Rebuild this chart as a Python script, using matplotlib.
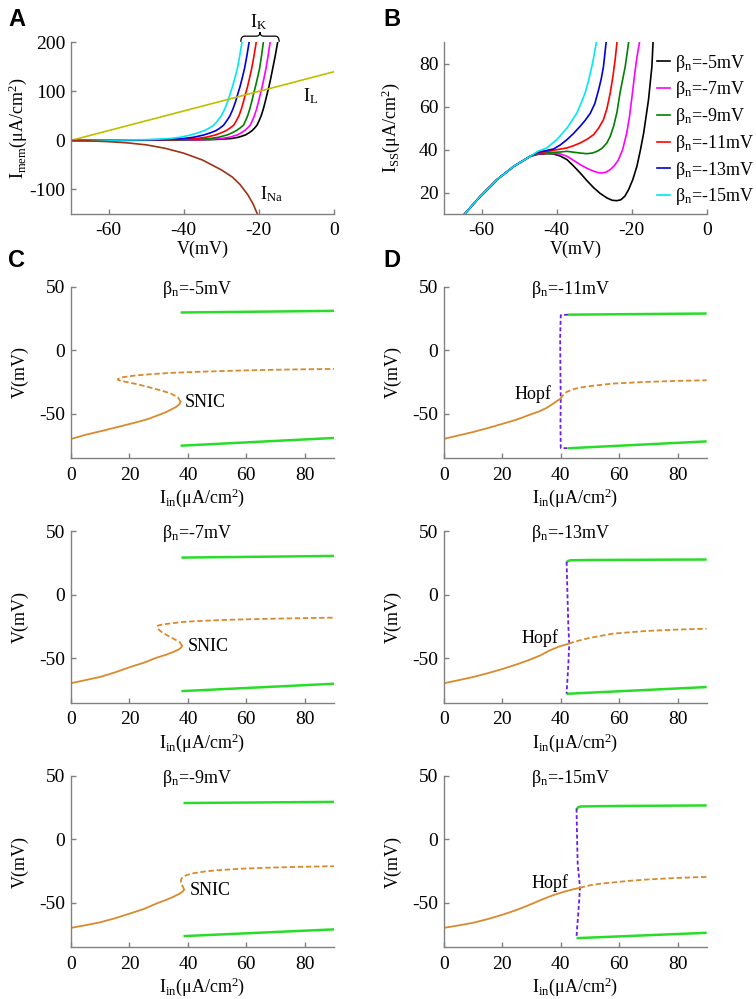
import matplotlib
matplotlib.use("Agg")
import matplotlib.pyplot as plt
from matplotlib.path import Path
from matplotlib.patches import PathPatch

plt.rcParams["font.family"] = "Liberation Serif"
plt.rcParams["mathtext.fontset"] = "custom"
plt.rcParams["mathtext.rm"] = "Liberation Serif"
plt.rcParams["mathtext.it"] = "Liberation Serif:italic"
plt.rcParams["mathtext.bf"] = "Liberation Serif:bold"
plt.rcParams["axes.unicode_minus"] = False

# ---------------- panel A: membrane currents ----------------
BETAS = [-5, -7, -9, -11, -13, -15]
IK_LEVELS = [0, 0.5, 1.5, 2.5, 4, 6.5, 11, 15, 20, 25, 31, 40, 50, 63, 79, 95, 110, 128, 147, 172, 200]
IK_V_5 = [-70, -45, -33, -30.1, -27.2, -25.4, -23.6, -22.7, -21.8, -21.15, -20.5, -19.95, -19.4,
          -18.85, -18.3, -17.8, -17.3, -16.8, -16.3, -15.65, -15.0]
IK_V_7 = [-70, -47, -35.5, -32.6, -29.8, -27.8, -25.8, -24.8, -23.8, -23.05, -22.3, -21.75, -21.2,
          -20.65, -20.1, -19.6, -19.1, -18.6, -18.1, -17.55, -17.0]
IK_V_9 = [-70, -51, -39.5, -36.2, -32.9, -30.7, -28.5, -27.25, -26.0, -25.05, -24.1, -23.55, -23.0,
          -22.45, -21.9, -21.4, -20.9, -20.35, -19.8, -19.3, -18.8]
IK_V_11 = [-70, -54, -43, -39.75, -36.5, -34.05, -31.6, -30.15, -28.7, -27.7, -26.7, -26.0, -25.3,
           -24.7, -24.1, -23.55, -23.0, -22.45, -21.9, -21.3, -20.7]
IK_V_13 = [-70, -57, -46.5, -43.25, -40.0, -37.35, -34.7, -33.05, -31.4, -30.4, -29.4, -28.55, -27.7,
           -26.95, -26.2, -25.6, -25.0, -24.4, -23.8, -23.2, -22.6]
IK_V_15 = [-70, -60, -50, -46.75, -43.5, -40.85, -38.2, -36.35, -34.5, -33.25, -32.0, -31.0, -30.0,
           -29.15, -28.3, -27.65, -27.0, -26.35, -25.7, -25.1, -24.5]
IL_V = [-70, 0]
IL_I = [0, 140]
INA_V = [-70, -65, -60, -55, -50, -45, -40, -35, -30, -27, -25, -23, -21.5, -20.4]
INA_I = [0, -1, -2.5, -5, -9, -16, -26, -40, -60, -75, -90, -110, -130, -150]

# ---------------- panel B: steady-state I-V ----------------
B_COMMON_V = [-64.5, -60.3, -55.9, -51.4, -47.0]
B_COMMON_I = [10, 18.3, 26, 32.2, 36.9]
B_V_5 = [-45, -42.6, -40.8, -39, -37.2, -35.5, -33.7, -31.9, -30.1, -28.4, -26.6, -25.2,
         -24.0, -22.9, -21.8, -20.8, -19.7, -18.6, -17.7, -16.8, -15.5, -14.6, -14.3]
B_I_5 = [37.8, 38.1, 38.0, 37.0, 35.3, 32.4, 29.1, 25.5, 22.2, 19.6, 17.5, 16.4,
         16.2, 16.6, 18.3, 21.4, 26, 32.2, 39.5, 47.7, 63.3, 78.8, 90]
B_V_7 = [-45, -42, -39, -37.2, -35.5, -33.7, -31.9, -30.1, -28.9, -27.9, -26.8, -25.7,
         -24.6, -23.5, -22.4, -21.3, -20.6, -20.0, -19.2, -18.6, -17.9]
B_I_7 = [38.0, 38.4, 38.0, 36.9, 35.0, 33.0, 31.3, 29.9, 29.3, 29.1, 29.5, 30.7,
         32.5, 35.3, 40, 47.8, 55, 63.3, 75, 83, 90]
B_V_9 = [-45, -42, -39, -37.2, -35.5, -33.7, -31.9, -30.5, -29.2, -27.9, -26.6, -25.7,
         -24.8, -23.9, -23.1, -21.7, -20.8]
B_I_9 = [38.1, 38.6, 38.9, 39.2, 38.8, 38.4, 38.1, 38.4, 39.2, 40.6, 43.1, 46.2,
         50.9, 57.5, 66.4, 78.8, 90]
B_V_11 = [-45, -42, -39.5, -37.2, -35.5, -33.7, -31.9, -30.1, -28.8, -27.5, -26.6, -25.7,
          -25.0, -24.4, -23.9]
B_I_11 = [38.4, 39.3, 40.1, 40.8, 41.8, 43.1, 44.8, 47, 50, 54, 59, 66.4, 74, 81.9, 90]
B_V_13 = [-45, -42.6, -40.8, -39, -37.2, -35.5, -33.7, -32.4, -31.0, -29.8, -28.8, -28.1,
          -27.5, -26.8]
B_I_13 = [38.8, 39.6, 40.3, 42.2, 44.7, 47.5, 50.9, 53.6, 57, 61.5, 67.9, 73, 78.8, 90]
B_V_15 = [-45, -42.6, -39.9, -37.2, -34.6, -33.5, -32.4, -31.5, -30.6, -30.0, -29.4]
B_I_15 = [39.2, 40.8, 44.7, 50.1, 57, 61.5, 66.4, 72, 78.8, 84, 90]

# ---------------- panels C/D: bifurcation diagrams ----------------
# bn = -5 mV
C5_STABLE_I = [0, 5, 11.4, 17, 22.8, 26.5, 29.7, 32.2, 34.2, 35.9, 37.1, 37.5]
C5_STABLE_V = [-69.8, -66.5, -63, -59.8, -56.4, -54, -51.2, -49, -46.7, -44.7, -42.5, -40.5]
C5_UNSTABLE_I = [37.5, 36.6, 34.2, 31.4, 28.5, 25.6, 22.8, 19.9, 17.6, 16.3, 16.0, 16.4,
                 17.6, 20.0, 22.8, 28.0, 34.2, 45.6, 57.0, 68.4, 79.0, 90.0]
C5_UNSTABLE_V = [-40.5, -37.0, -34.1, -32.0, -30.2, -28.4, -26.8, -25.4, -24.3, -23.6, -22.9, -22.2,
                 -21.3, -20.4, -19.7, -18.7, -17.8, -16.8, -16.0, -15.4, -15.0, -14.7]
C5_CYC_UP_I, C5_CYC_UP_V = [37.5, 90], [29.7, 31.0]
C5_CYC_LO_I, C5_CYC_LO_V = [37.5, 90], [-75.1, -69.0]

# bn = -7 mV
C7_STABLE_I = [0, 5, 9.9, 15, 20.2, 25, 29.3, 32.5, 35, 36.8, 37.8, 38.0]
C7_STABLE_V = [-69.7, -67.2, -64.8, -61.2, -57, -53.5, -49.6, -47.3, -45.1, -43.2, -41.5, -40.3]
C7_UNSTABLE_I = [38.0, 37.2, 35.0, 32.8, 31.0, 30.0, 29.5, 29.8, 31.6, 35, 38.4, 45, 55.5, 70, 90]
C7_UNSTABLE_V = [-40.3, -37.3, -34.6, -31.9, -29.4, -27.4, -25.5, -24.3, -23.4, -22.4, -21.5,
                 -20.6, -19.7, -18.9, -18.1]
C7_CYC_UP_I, C7_CYC_UP_V = [37.8, 90], [29.1, 30.4]
C7_CYC_LO_I, C7_CYC_LO_V = [37.8, 90], [-75.9, -70.1]

# bn = -9 mV
C9_STABLE_I = [0, 5, 9.9, 15, 20.2, 25, 29.3, 32.5, 35, 37, 38.2, 38.7]
C9_STABLE_V = [-69.7, -67.6, -65.4, -62.2, -58.4, -54.8, -50.5, -47.8, -45.3, -43, -41.2, -39.8]
C9_UNSTABLE_I = [38.7, 38.4, 37.9, 37.6, 37.7, 38.2, 39.5, 42, 46, 50, 58, 67, 78, 90]
C9_UNSTABLE_V = [-39.8, -37.8, -35.8, -33.5, -31.5, -29.8, -28.2, -26.7, -25.3, -24.4, -23.2,
                 -22.4, -21.7, -21.2]
C9_CYC_UP_I, C9_CYC_UP_V = [38.5, 90], [28.5, 29.4]
C9_CYC_LO_I, C9_CYC_LO_V = [38.5, 90], [-76.2, -70.9]

# bn = -11 mV
D11_STABLE_I = [0, 5, 10, 15, 20.3, 25, 29.4, 32.5, 35.1, 37, 38.5, 39.8]
D11_STABLE_V = [-69.7, -67, -64.3, -61.2, -57.7, -54.5, -50.7, -48.2, -45.4, -42.6, -40.2, -38.3]
D11_UNSTABLE_I = [39.8, 40.8, 42, 44, 46.5, 50, 57.9, 69.3, 80, 90]
D11_UNSTABLE_V = [-38.3, -35.3, -32.8, -30.9, -29.4, -28.2, -26.2, -24.9, -24.1, -23.6]
D11_UCYC_I = [42.5, 40.0, 39.8, 39.9, 40.0, 39.9, 40.0, 42.5]
D11_UCYC_V = [28.0, 27.6, 10, -20, -38.3, -60, -76.9, -77.1]
D11_CYC_UP_I, D11_CYC_UP_V = [42.5, 90], [28.0, 28.9]
D11_CYC_LO_I, D11_CYC_LO_V = [42.5, 90], [-77.1, -71.7]

# bn = -13 mV
D13_STABLE_I = [0, 5, 10, 15, 20.3, 25, 29.4, 33, 36.3, 39.5, 42.7]
D13_STABLE_V = [-69.7, -67.3, -64.8, -61.8, -58.3, -54.8, -51.2, -47.8, -43.8, -40.8, -38.6]
D13_UNSTABLE_I = [42.7, 44.5, 46.5, 50, 57.9, 69.3, 80, 90]
D13_UNSTABLE_V = [-38.6, -37.2, -36, -34, -30.7, -28.6, -27.5, -26.8]
D13_UCYC_I = [42.0, 42.3, 42.6, 42.9, 42.6, 42.2, 42.0]
D13_UCYC_V = [25.7, 0, -25, -38.6, -55, -70, -78]
D13_CYC_UP_I, D13_CYC_UP_V = [42.0, 42.5, 43.5, 50, 90], [25.2, 26.5, 27.0, 27.2, 27.6]
D13_CYC_LO_I, D13_CYC_LO_V = [42.0, 90], [-78, -72.7]

# bn = -15 mV
D15_STABLE_I = [0, 5, 10, 15, 20.3, 25, 29.4, 33.5, 37.4, 41, 44, 46.5]
D15_STABLE_V = [-69.7, -67.8, -65.7, -62.8, -59.2, -55.5, -51.5, -47.5, -44.0, -41.4, -39.5, -38.2]
D15_UNSTABLE_I = [46.5, 50, 53.4, 57.9, 63, 69.3, 80, 90]
D15_UNSTABLE_V = [-38.2, -36.2, -35, -34.0, -32.8, -31.7, -30.4, -29.6]
D15_UCYC_I = [45.4, 45.6, 45.8, 46.6, 46.0, 45.6, 45.4]
D15_UCYC_V = [24.1, 0, -19.1, -38.2, -58.4, -70, -76.7]
D15_CYC_UP_I, D15_CYC_UP_V = [45.4, 46.0, 47.0, 52, 60, 90], [23.5, 25.3, 25.8, 26.0, 26.2, 26.6]
D15_CYC_LO_I, D15_CYC_LO_V = [45.4, 90], [-77.8, -73.6]

CURVE_COLORS = ["black", "#ff00ff", "#008000", "#ff0000", "#0000dd", "#00e8f0"]
ORANGE = "#d98a2c"
GREEN = "#2adc2a"
PURPLE = "#6f1fdc"
SPINE = "#808080"

W, H = 756, 999


def axes_px(fig, left, top, right, bottom):
    return fig.add_axes([left / W, 1 - bottom / H, (right - left) / W, (bottom - top) / H])


def style(ax):
    for s in ("top", "right"):
        ax.spines[s].set_visible(False)
    for s in ("left", "bottom"):
        ax.spines[s].set_color(SPINE)
        ax.spines[s].set_linewidth(1.0)
    ax.tick_params(direction="in", length=3.5, width=1.0, color=SPINE, labelsize=14)
    ax.tick_params(axis="x", pad=6)
    ax.tick_params(axis="y", pad=4)


def brace(ax, x0, x1, y_end, y_mid, y_tip, w):
    xm = 0.5 * (x0 + x1)
    verts = [(x0, y_end), (x0, y_mid), (x0 + w, y_mid), (xm - w, y_mid), (xm, y_mid), (xm, y_tip),
             (xm, y_mid), (xm + w, y_mid), (x1 - w, y_mid), (x1, y_mid), (x1, y_end)]
    codes = [Path.MOVETO, Path.CURVE3, Path.CURVE3, Path.LINETO, Path.CURVE3, Path.CURVE3,
             Path.CURVE3, Path.CURVE3, Path.LINETO, Path.CURVE3, Path.CURVE3]
    ax.add_patch(PathPatch(Path(verts, codes), fill=False, lw=0.9, color="black", clip_on=False))


def panel_a(ax):
    ik = [IK_V_5, IK_V_7, IK_V_9, IK_V_11, IK_V_13, IK_V_15]
    for v, c in zip(ik, CURVE_COLORS):
        ax.plot(v, IK_LEVELS, color=c, lw=1.2)
    ax.plot(IL_V, IL_I, color="#bfbf00", lw=1.2)
    ax.plot(INA_V, INA_I, color="#9b3412", lw=1.2)
    ax.set_xlim(-70, 0)
    ax.set_ylim(-150, 200)
    ax.set_xticks([-60, -40, -20, 0])
    ax.set_yticks([-100, 0, 100, 200])
    brace(ax, -24.8, -14.6, 201, 212.5, 221, 1.0)
    ax.text(-20.2, 241, r"I$_{\rm K}$", ha="center", va="center", fontsize=13)
    ax.text(-8.2, 90, r"I$_{\rm L}$", ha="left", va="center", fontsize=13)
    ax.text(-19.7, -110, r"I$_{\rm Na}$", ha="left", va="center", fontsize=13)
    ax.set_xlabel("V(mV)", fontsize=13)
    ax.set_ylabel(r"I$_{\rm mem}$(μA/cm$^{2}$)", fontsize=13)


def panel_b(ax):
    tails = [(B_V_5, B_I_5), (B_V_7, B_I_7), (B_V_9, B_I_9),
             (B_V_11, B_I_11), (B_V_13, B_I_13), (B_V_15, B_I_15)]
    handles = []
    for (v, i), c, b in zip(tails, CURVE_COLORS, BETAS):
        h, = ax.plot(B_COMMON_V + v, B_COMMON_I + i, color=c, lw=1.2,
                     label=r"β$_{\rm n}$=%dmV" % b)
        handles.append(h)
    ax.set_xlim(-70, 0)
    ax.set_ylim(10, 90)
    ax.set_xticks([-60, -40, -20, 0])
    ax.set_yticks([20, 40, 60, 80])
    ax.legend(handles=handles, loc="upper left", bbox_to_anchor=(0.81, 0.94), frameon=False,
              fontsize=13, handlelength=0.75, handletextpad=0.25, labelspacing=0.32,
              borderpad=0, borderaxespad=0)
    ax.set_xlabel("V(mV)", fontsize=13)
    ax.set_ylabel(r"I$_{\rm SS}$(μA/cm$^{2}$)", fontsize=13)


def panel_bif(ax, beta, stable, unstable, cyc_up, cyc_lo, ucyc=None):
    ax.plot(*cyc_up, color=GREEN, lw=1.8, solid_capstyle="butt")
    ax.plot(*cyc_lo, color=GREEN, lw=1.8, solid_capstyle="butt")
    if ucyc is not None:
        ax.plot(*ucyc, color=PURPLE, lw=1.3, ls=(0, (2.2, 1.4)))
    ax.plot(*stable, color=ORANGE, lw=1.3)
    ax.plot(*unstable, color=ORANGE, lw=1.3, ls=(0, (3, 1.5)))
    ax.set_xlim(0, 90)
    ax.set_ylim(-85, 50)
    ax.set_xticks([0, 20, 40, 60, 80])
    ax.set_yticks([-50, 0, 50])
    ax.text(0.48, 0.958, r"β$_{\rm n}$=%dmV" % beta, transform=ax.transAxes,
            ha="center", va="baseline", fontsize=13)
    ax.set_xlabel(r"I$_{\rm in}$(μA/cm$^{2}$)", fontsize=13)
    ax.set_ylabel("V(mV)", fontsize=13)


def main():
    fig = plt.figure(figsize=(W / 100, H / 100), dpi=100)

    ax_a = axes_px(fig, 71, 42.3, 334, 214)
    ax_b = axes_px(fig, 444, 42.3, 706.7, 214)
    panel_a(ax_a)
    panel_b(ax_b)

    rows = [(286.7, 458.3), (531, 702.7), (775.7, 947.3)]
    left_data = [
        (-5, (C5_STABLE_I, C5_STABLE_V), (C5_UNSTABLE_I, C5_UNSTABLE_V),
         (C5_CYC_UP_I, C5_CYC_UP_V), (C5_CYC_LO_I, C5_CYC_LO_V), (39.0, -41.3)),
        (-7, (C7_STABLE_I, C7_STABLE_V), (C7_UNSTABLE_I, C7_UNSTABLE_V),
         (C7_CYC_UP_I, C7_CYC_UP_V), (C7_CYC_LO_I, C7_CYC_LO_V), (40.1, -41.2)),
        (-9, (C9_STABLE_I, C9_STABLE_V), (C9_UNSTABLE_I, C9_UNSTABLE_V),
         (C9_CYC_UP_I, C9_CYC_UP_V), (C9_CYC_LO_I, C9_CYC_LO_V), (40.7, -40.0)),
    ]
    right_data = [
        (-11, (D11_STABLE_I, D11_STABLE_V), (D11_UNSTABLE_I, D11_UNSTABLE_V),
         (D11_CYC_UP_I, D11_CYC_UP_V), (D11_CYC_LO_I, D11_CYC_LO_V),
         (D11_UCYC_I, D11_UCYC_V), (36.8, -34.1)),
        (-13, (D13_STABLE_I, D13_STABLE_V), (D13_UNSTABLE_I, D13_UNSTABLE_V),
         (D13_CYC_UP_I, D13_CYC_UP_V), (D13_CYC_LO_I, D13_CYC_LO_V),
         (D13_UCYC_I, D13_UCYC_V), (39.1, -33.9)),
        (-15, (D15_STABLE_I, D15_STABLE_V), (D15_UNSTABLE_I, D15_UNSTABLE_V),
         (D15_CYC_UP_I, D15_CYC_UP_V), (D15_CYC_LO_I, D15_CYC_LO_V),
         (D15_UCYC_I, D15_UCYC_V), (42.5, -34.3)),
    ]
    bif_axes = []
    for (top, bottom), (beta, st, un, up, lo, lab) in zip(rows, left_data):
        ax = axes_px(fig, 71, top, 334, bottom)
        panel_bif(ax, beta, st, un, up, lo)
        ax.text(lab[0], lab[1], "SNIC", ha="left", va="center", fontsize=13)
        bif_axes.append(ax)
    for (top, bottom), (beta, st, un, up, lo, uc, lab) in zip(rows, right_data):
        ax = axes_px(fig, 444, top, 706.7, bottom)
        panel_bif(ax, beta, st, un, up, lo, uc)
        ax.text(lab[0], lab[1], "Hopf", ha="right", va="center", fontsize=13)
        bif_axes.append(ax)

    for ax in [ax_a, ax_b]:
        style(ax)
        ax.xaxis.set_label_coords(0.5, -0.155)
        ax.yaxis.set_label_coords(-0.16, 0.5)
    for ax in bif_axes:
        style(ax)
        ax.xaxis.set_label_coords(0.5, -0.165)
        ax.yaxis.set_label_coords(-0.16, 0.5)

    for letter, x, y in [("A", 8, 26), ("B", 383, 26), ("C", 8, 267), ("D", 383, 267)]:
        fig.text(x / W, 1 - y / H, letter, fontfamily="Liberation Sans", fontweight="bold",
                 fontsize=17, va="baseline", ha="left")

    fig.savefig("out.png", dpi=100)
    plt.close(fig)


if __name__ == "__main__":
    main()
